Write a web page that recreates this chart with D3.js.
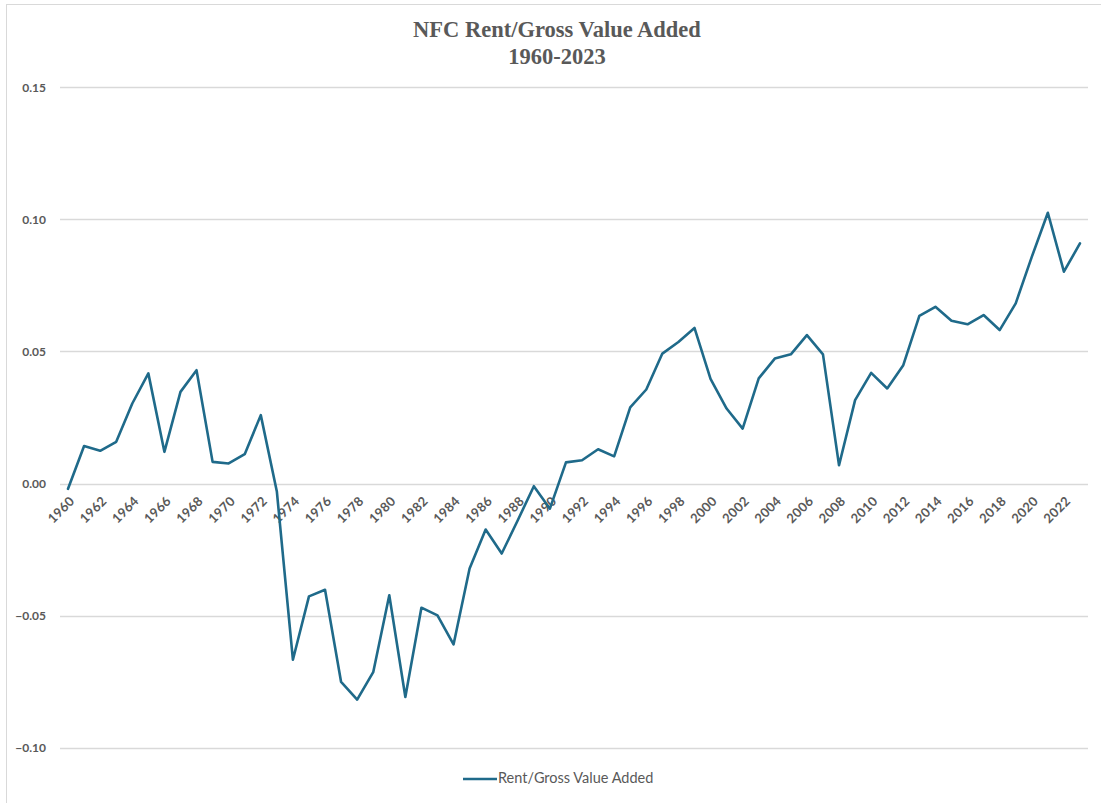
<!DOCTYPE html>
<html>
<head>
<meta charset="utf-8">
<script src="https://cdn.jsdelivr.net/npm/d3@7"></script>
<style>
  html, body { margin: 0; padding: 0; background: #fff; }
  svg { display: block; }
</style>
</head>
<body>
<svg id="chart" width="1101" height="803"></svg>
<script>
const years = d3.range(1960, 2024);
const values = [
  -0.002, 0.0142, 0.0124, 0.0158, 0.0303, 0.0417, 0.0120, 0.0347, 0.0429, 0.0082,
  0.0076, 0.0111, 0.0259, -0.003, -0.0667, -0.0427, -0.0402, -0.0751, -0.0818, -0.0714,
  -0.0423, -0.0808, -0.0470, -0.0499, -0.0609, -0.0322, -0.0174, -0.0265, -0.0139, -0.0010,
  -0.0095, 0.0080, 0.0088, 0.0130, 0.0103, 0.0288, 0.0356, 0.0492, 0.0536, 0.0589,
  0.0396, 0.0284, 0.0208, 0.0398, 0.0473, 0.0489, 0.0562, 0.0489, 0.0069, 0.0316,
  0.0419, 0.0360, 0.0448, 0.0635, 0.0669, 0.0616, 0.0603, 0.0638, 0.0581, 0.0682,
  0.0858, 0.1025, 0.0802, 0.0909
];
const yTicks = [-0.10, -0.05, 0.00, 0.05, 0.10, 0.15];
const xTickLabels = years.filter(y => (y - 1960) % 2 === 0);
const titleLines = ["NFC Rent/Gross Value Added", "1960-2023"];
const seriesName = "Rent/Gross Value Added";

(function () {
const svg = d3.select("#chart");
const W = 1101, H = 803;
const plotLeft = 60, plotRight = 1088, plotTop = 87.3, plotBottom = 747.7;
const lineColor = "#1f6a8a";
const textColor = "#595959";
const gridColor = "#d9d9d9";

// frame
svg.append("rect").attr("x", 6.5).attr("y", 4.5).attr("width", W + 10).attr("height", H + 10)
  .attr("fill", "none").attr("stroke", gridColor).attr("stroke-width", 1);

const x = d3.scaleBand().domain(years).range([plotLeft, plotRight]).padding(0);
const y = d3.scaleLinear().domain([-0.10, 0.15]).range([plotBottom, plotTop]);

// gridlines
svg.append("g").selectAll("line").data(yTicks).join("line")
  .attr("x1", plotLeft).attr("x2", plotRight)
  .attr("y1", d => Math.round(y(d)) + 0.5).attr("y2", d => Math.round(y(d)) + 0.5)
  .attr("stroke", gridColor).attr("stroke-width", 1.3);

// y axis labels
const yAxis = d3.axisLeft(y).tickValues(yTicks).tickFormat(d3.format(".2f")).tickSize(0).tickPadding(0);
const gy = svg.append("g").attr("transform", "translate(46,0)").call(yAxis);
gy.select(".domain").remove();
gy.selectAll("text").attr("fill", textColor).attr("font-family", "Lato, 'Liberation Sans', sans-serif")
  .attr("font-size", "12px").attr("font-weight", "bold");

// x axis labels
const xAxis = d3.axisBottom(x).tickValues(xTickLabels).tickSize(0).tickPadding(0);
const gx = svg.append("g").attr("transform", `translate(0,${y(0)})`).call(xAxis);
gx.select(".domain").remove();
gx.selectAll("text")
  .attr("fill", textColor).attr("font-family", "Lato, 'Liberation Sans', sans-serif")
  .attr("font-size", "13px").attr("font-weight", "bold")
  .attr("letter-spacing", "0.3px")
  .attr("text-anchor", "end")
  .attr("dy", null)
  .attr("transform", "translate(5,16) rotate(-45)")
  .attr("y", 0).attr("x", 0).attr("dominant-baseline", "middle");

// line
const line = d3.line().x((d, i) => x(years[i]) + x.bandwidth() / 2).y(d => y(d));
svg.append("path").datum(values).attr("d", line)
  .attr("fill", "none").attr("stroke", lineColor).attr("stroke-width", 2.6)
  .attr("stroke-linejoin", "round").attr("stroke-linecap", "round");

// title
svg.append("g").selectAll("text").data(titleLines).join("text")
  .attr("x", 557).attr("y", (d, i) => 37 + i * 27)
  .attr("text-anchor", "middle")
  .attr("font-family", "'Liberation Serif', 'Times New Roman', serif")
  .attr("font-weight", "bold").attr("font-size", "22.5px")
  .attr("fill", textColor).text(d => d);

// legend
const lg = svg.append("g");
lg.append("line").attr("x1", 463).attr("x2", 497).attr("y1", 779).attr("y2", 779)
  .attr("stroke", lineColor).attr("stroke-width", 2.6);
lg.append("text").attr("x", 498).attr("y", 779).attr("dominant-baseline", "middle")
  .attr("font-family", "Lato, 'Liberation Sans', sans-serif").attr("font-size", "14.5px")
  .attr("fill", textColor).text(seriesName);
})();
</script>
</body>
</html>
